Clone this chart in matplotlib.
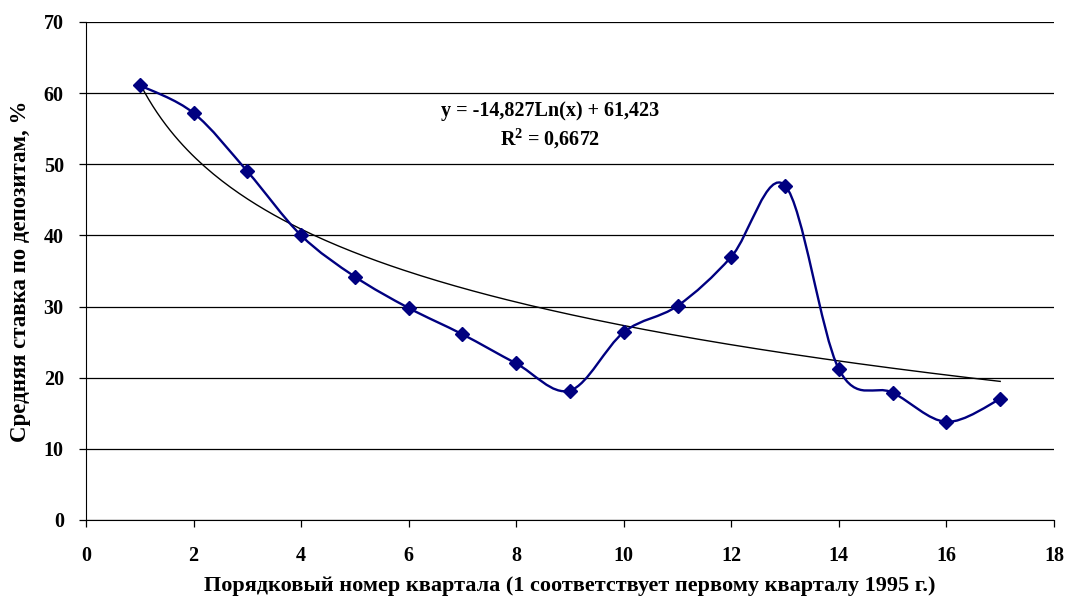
import numpy as np
import matplotlib.pyplot as plt
from matplotlib.path import Path
from matplotlib.patches import PathPatch

plt.rcParams['font.family'] = ['Liberation Serif', 'DejaVu Serif']
plt.rcParams['font.weight'] = 'bold'
plt.rcParams['mathtext.fontset'] = 'custom'
plt.rcParams['mathtext.rm'] = 'Liberation Serif:bold'
plt.rcParams['mathtext.it'] = 'Liberation Serif:bold'

quarters = np.arange(1, 18)
rates = [61.1, 57.2, 49.0, 40.0, 34.2, 29.8, 26.1, 22.0, 18.2,
         26.4, 30.1, 37.0, 47.0, 21.2, 17.9, 13.8, 17.0]
xticks = [0, 2, 4, 6, 8, 10, 12, 14, 16, 18]
yticks = [0, 10, 20, 30, 40, 50, 60, 70]
eq_text = "y = -14,827Ln(x) + 61,423"
r2_text = r"R$^{2}$ = 0,6672"
xlabel = "Порядковый номер квартала (1 соответствует первому кварталу 1995 г.)"
ylabel = "Средняя ставка по депозитам, %"

navy = "#000080"

fig = plt.figure(figsize=(10.66, 5.99), dpi=100)
ax = fig.add_axes([0.0807, 0.1319, 0.9080, 0.8314])

# smoothed line (bezier through points, like excel)
x = np.asarray(quarters, dtype=float)
y = np.asarray(rates, dtype=float)
n = len(x)
verts = [(x[0], y[0])]
codes = [Path.MOVETO]
for i in range(n - 1):
    p0 = (x[i - 1], y[i - 1]) if i > 0 else (x[i], y[i])
    p1 = (x[i], y[i])
    p2 = (x[i + 1], y[i + 1])
    p3 = (x[i + 2], y[i + 2]) if i + 2 < n else (x[i + 1], y[i + 1])
    c1 = (p1[0] + (p2[0] - p0[0]) / 6, p1[1] + (p2[1] - p0[1]) / 6)
    c2 = (p2[0] - (p3[0] - p1[0]) / 6, p2[1] - (p3[1] - p1[1]) / 6)
    verts += [c1, c2, p2]
    codes += [Path.CURVE4] * 3
ax.add_patch(PathPatch(Path(verts, codes), fill=False, edgecolor=navy, lw=1.7, zorder=3))
ax.plot(x, y, ls='none', marker='D', ms=7, color=navy, zorder=4)

# log trend line
a, b = np.polyfit(np.log(x), y, 1)
xt = np.linspace(1, 17, 200)
ax.plot(xt, a * np.log(xt) + b, color='black', lw=1, zorder=2)

ax.text(8.63, 57.5, eq_text, ha='center', va='center', fontsize=14.5, fontweight='bold')
ax.text(8.63, 53.5, r2_text, ha='center', va='center', fontsize=14.5, fontweight='bold')

ax.set_xlim(0, 18)
ax.set_ylim(0, 70)
ax.set_xticks(xticks)
ax.set_yticks(yticks)
ax.yaxis.grid(True, color='black', lw=0.9)
ax.set_axisbelow(True)
for s in ['top', 'right']:
    ax.spines[s].set_visible(False)
ax.tick_params(direction='out', length=5, width=0.9, labelsize=14.5)
ax.tick_params(axis='y', pad=11)
ax.tick_params(axis='x', pad=14)
ax.set_xlabel(xlabel, fontsize=16, fontweight='bold', labelpad=7)
ax.set_ylabel(ylabel, fontsize=16.5, fontweight='bold', labelpad=9)

fig.savefig("out.png", dpi=100)
